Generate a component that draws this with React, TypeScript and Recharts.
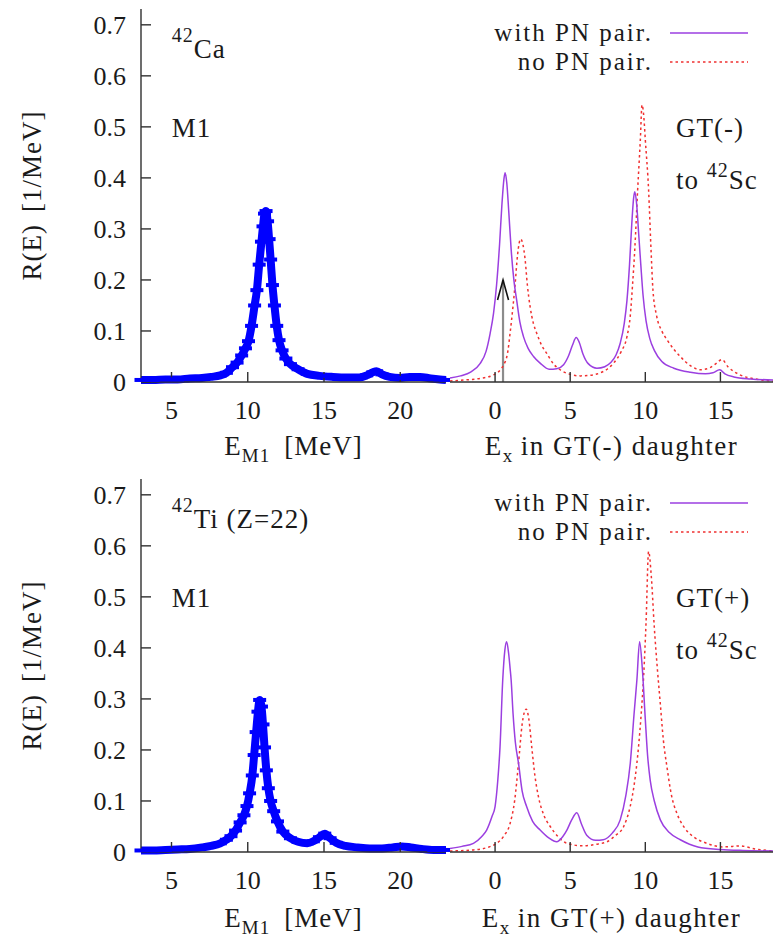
import React from 'react';
import { LineChart, Line, XAxis, YAxis, Legend, ReferenceLine } from 'recharts';

type P = [number, number];

const FONT = "'Liberation Serif', 'DejaVu Serif', 'Noto Serif', serif";
const INK = '#1a1a1a';
const AXIS_COLOR = '#303030';
const BLUE = '#0000ff';
const PURPLE = '#9b3fe0';
const RED = '#f03030';

// ---------- axes ----------
const yTicks = [0, 0.1, 0.2, 0.3, 0.4, 0.5, 0.6, 0.7];
const yDomain = [0, 0.731];
const m1Ticks = [5, 10, 15, 20];
const m1Domain = [3, 23];
const gtTicks = [0, 5, 10, 15];
const gtDomain = [-3, 18.5];

// ---------- legend ----------
const legendNames = ['with PN pair.', 'no PN pair.'];

// ---------- 42Ca M1 strength ----------
const caM1: P[] = [
  [3.0, 0.004], [3.8, 0.004], [4.6, 0.005], [5.4, 0.005], [6.2, 0.007], [7.0, 0.008],
  [7.6, 0.010], [8.2, 0.013], [8.6, 0.018], [9.0, 0.029], [9.3, 0.038], [9.6, 0.052],
  [9.85, 0.066], [10.05, 0.08], [10.25, 0.11], [10.45, 0.15], [10.6, 0.18], [10.75, 0.23],
  [10.9, 0.275], [11.0, 0.305], [11.1, 0.33], [11.2, 0.335], [11.3, 0.315], [11.4, 0.28],
  [11.5, 0.24], [11.62, 0.19], [11.75, 0.15], [11.9, 0.11], [12.05, 0.082], [12.25, 0.062],
  [12.5, 0.046], [12.8, 0.035], [13.3, 0.025], [13.9, 0.016], [14.7, 0.012], [15.6, 0.010],
  [16.5, 0.009], [17.3, 0.009], [17.8, 0.013], [18.2, 0.019], [18.45, 0.021], [18.8, 0.015],
  [19.3, 0.010], [20.0, 0.008], [20.6, 0.010], [21.3, 0.010], [22.0, 0.007], [22.6, 0.005],
  [23.0, 0.004],
];

// ---------- 42Ti M1 strength ----------
const tiM1: P[] = [
  [3.0, 0.003], [3.8, 0.003], [4.6, 0.004], [5.4, 0.005], [6.2, 0.006], [7.0, 0.009],
  [7.6, 0.012], [8.2, 0.017], [8.6, 0.024], [8.9, 0.031], [9.2, 0.042], [9.5, 0.058],
  [9.75, 0.072], [9.95, 0.09], [10.12, 0.115], [10.3, 0.15], [10.42, 0.19], [10.55, 0.235],
  [10.67, 0.275], [10.78, 0.298], [10.9, 0.285], [11.0, 0.25], [11.1, 0.205], [11.22, 0.16],
  [11.35, 0.125], [11.5, 0.1], [11.7, 0.08], [11.95, 0.06], [12.3, 0.04], [12.8, 0.027],
  [13.3, 0.02], [13.9, 0.017], [14.3, 0.021], [14.7, 0.029], [15.05, 0.036], [15.4, 0.027],
  [15.8, 0.018], [16.4, 0.012], [17.2, 0.009], [18.0, 0.007], [18.8, 0.007], [19.5, 0.009],
  [20.1, 0.011], [20.7, 0.009], [21.4, 0.006], [22.2, 0.004], [23.0, 0.004],
];

// ---------- GT(-) ----------
const gtMinusWith: P[] = [
  [-3.0, 0.008], [-2.3, 0.012], [-1.6, 0.02], [-1.0, 0.036], [-0.6, 0.06], [-0.33, 0.095],
  [-0.1, 0.135], [0.1, 0.19], [0.3, 0.27], [0.45, 0.345], [0.6, 0.4], [0.67, 0.41],
  [0.78, 0.39], [0.92, 0.33], [1.07, 0.26], [1.25, 0.2], [1.44, 0.16], [1.65, 0.118],
  [1.89, 0.089], [2.2, 0.066], [2.56, 0.05], [3.0, 0.037], [3.6, 0.025], [4.1, 0.026],
  [4.56, 0.034], [4.9, 0.052], [5.15, 0.072], [5.4, 0.087], [5.6, 0.078], [5.85, 0.055],
  [6.2, 0.036], [6.78, 0.027], [7.3, 0.03], [7.7, 0.038], [8.05, 0.053], [8.33, 0.076],
  [8.6, 0.115], [8.78, 0.16], [8.95, 0.23], [9.1, 0.31], [9.22, 0.36], [9.3, 0.373],
  [9.42, 0.35], [9.56, 0.29], [9.7, 0.23], [9.85, 0.17], [10.05, 0.12], [10.3, 0.085],
  [10.6, 0.062], [11.1, 0.04], [11.9, 0.027], [13.0, 0.019], [14.0, 0.016], [14.5, 0.018],
  [14.95, 0.024], [15.3, 0.016], [15.9, 0.01], [17.0, 0.006], [18.5, 0.004],
];
const gtMinusNo: P[] = [
  [-3.0, 0.002], [-2.0, 0.004], [-1.0, 0.007], [-0.1, 0.014], [0.56, 0.033], [0.85, 0.06],
  [1.0, 0.096], [1.2, 0.15], [1.33, 0.19], [1.5, 0.25], [1.7, 0.28], [1.85, 0.27],
  [2.0, 0.24], [2.15, 0.19], [2.33, 0.148], [2.55, 0.115], [2.78, 0.095], [3.1, 0.072],
  [3.44, 0.056], [3.9, 0.035], [4.33, 0.024], [5.0, 0.015], [5.67, 0.012], [6.3, 0.013],
  [7.0, 0.018], [7.5, 0.026], [7.89, 0.037], [8.4, 0.06], [8.78, 0.089], [9.0, 0.13],
  [9.15, 0.19], [9.3, 0.26], [9.49, 0.376], [9.67, 0.475], [9.78, 0.543], [9.9, 0.52],
  [10.0, 0.475], [10.22, 0.376], [10.38, 0.26], [10.51, 0.18], [10.75, 0.13], [11.1, 0.1],
  [11.44, 0.083], [12.33, 0.05], [13.0, 0.032], [13.67, 0.024], [14.3, 0.028], [14.7, 0.036],
  [15.1, 0.044], [15.5, 0.03], [16.3, 0.014], [17.3, 0.006], [18.5, 0.002],
];
const gtMinusArrow: P[] = [[0.53, 0], [0.53, 0.2]];

// ---------- GT(+) ----------
const gtPlusWith: P[] = [
  [-3.0, 0.007], [-2.2, 0.011], [-1.44, 0.017], [-0.9, 0.03], [-0.56, 0.043], [-0.2, 0.07],
  [0.0, 0.089], [0.18, 0.14], [0.33, 0.206], [0.51, 0.337], [0.65, 0.395], [0.77, 0.412],
  [0.9, 0.39], [1.0, 0.36], [1.07, 0.337], [1.2, 0.27], [1.35, 0.215], [1.56, 0.174],
  [1.8, 0.12], [2.1, 0.089], [2.5, 0.06], [3.0, 0.043], [3.6, 0.027], [4.1, 0.02],
  [4.5, 0.03], [4.78, 0.043], [5.1, 0.063], [5.44, 0.077], [5.75, 0.055], [6.1, 0.033],
  [6.7, 0.023], [7.2, 0.024], [7.8, 0.037], [8.33, 0.063], [8.7, 0.11], [9.0, 0.174],
  [9.25, 0.27], [9.44, 0.337], [9.62, 0.412], [9.8, 0.36], [10.0, 0.26], [10.15, 0.19],
  [10.33, 0.14], [10.6, 0.1], [11.0, 0.063], [11.6, 0.038], [12.33, 0.024], [13.5, 0.01],
  [15.0, 0.005], [16.5, 0.003], [18.5, 0.002],
];
const gtPlusNo: P[] = [
  [-3.0, 0.002], [-1.44, 0.004], [-0.5, 0.009], [0.1, 0.017], [0.6, 0.032], [1.0, 0.056],
  [1.3, 0.1], [1.56, 0.174], [1.8, 0.25], [2.07, 0.28], [2.25, 0.26], [2.44, 0.206],
  [2.65, 0.15], [2.89, 0.108], [3.25, 0.072], [3.67, 0.05], [4.2, 0.03], [4.78, 0.017],
  [5.89, 0.012], [6.7, 0.015], [7.44, 0.02], [8.0, 0.032], [8.56, 0.05], [9.0, 0.09],
  [9.25, 0.13], [9.44, 0.174], [9.7, 0.26], [9.89, 0.345], [10.05, 0.45], [10.22, 0.589],
  [10.4, 0.54], [10.6, 0.44], [10.8, 0.36], [11.0, 0.29], [11.2, 0.22], [11.44, 0.167],
  [11.75, 0.11], [12.1, 0.076], [12.6, 0.048], [13.2, 0.03], [14.0, 0.018], [15.2, 0.01],
  [15.8, 0.011], [16.3, 0.012], [17.3, 0.006], [18.5, 0.002],
];

const toRows = (pts: P[]) => pts.map(([x, y]) => ({ x, y }));

// ---------- styles ----------
const axisLineStyle = { stroke: AXIS_COLOR, strokeWidth: 1.4 };
const tickText = { fontSize: 26, fontFamily: FONT, fill: INK, style: { fontFamily: FONT } };
const fmtY = (v: number) => (v === 0 ? '0' : v.toFixed(1));

const blueDash = (props: any) => {
  const { cx, cy, index } = props;
  if (cx == null || cy == null) return <g key={`d${index}`} />;
  return <rect key={`d${index}`} x={cx - 6.5} y={cy - 2} width={13} height={4} fill={BLUE} />;
};

const txtStyle = { fontFamily: FONT };

const yTitle = (props: any) => {
  const vb = props.viewBox || { x: 0, y: 0, width: 0, height: 0 };
  const x = vb.x + 41;
  const cy = vb.y + vb.height / 2;
  return (
    <text
      x={x}
      y={cy}
      transform={`rotate(-90 ${x} ${cy})`}
      textAnchor="middle"
      style={txtStyle}
      fontSize={27}
      fill={INK}
      letterSpacing={1}
    >
      R(E)<tspan dx={12}>[1/MeV]</tspan>
    </text>
  );
};

const makeM1Title = (off: number) => (props: any) => {
  const vb = props.viewBox || { x: 0, y: 0, width: 0, height: 0 };
  const cx = vb.x + vb.width / 2;
  return (
    <text x={cx} y={vb.y + off} textAnchor="middle" style={txtStyle} fontSize={27} fill={INK} letterSpacing={1}>
      E<tspan fontSize={19} dy={7}>M1</tspan>
      <tspan dy={-7} dx={14}>[MeV]</tspan>
    </text>
  );
};

const makeGtTitle = (off: number, sign: string) => (props: any) => {
  const vb = props.viewBox || { x: 0, y: 0, width: 0, height: 0 };
  const cx = vb.x + vb.width / 2;
  return (
    <text x={cx} y={vb.y + off} textAnchor="middle" style={txtStyle} fontSize={27} fill={INK} letterSpacing={1.5}>
      E<tspan fontSize={19} dy={7}>x</tspan>
      <tspan dy={-7} dx={7}>{`in GT(${sign}) daughter`}</tspan>
    </text>
  );
};

const LEG_ROW = 29;
const renderLegend = () => (
  <div style={{ position: 'relative', width: 334, height: 62, fontFamily: FONT, fontSize: 25, color: INK }}>
    {legendNames.map((n, i) => (
      <div key={n} style={{ position: 'absolute', left: 0, top: i * LEG_ROW, width: 334, height: LEG_ROW }}>
        <span
          style={{
            position: 'absolute',
            right: 334 - 213,
            top: 0,
            lineHeight: `${LEG_ROW}px`,
            whiteSpace: 'nowrap',
            letterSpacing: 2,
            fontFamily: FONT,
          }}
        >
          {n}
        </span>
        <svg style={{ position: 'absolute', left: 228, top: 0 }} width={82} height={LEG_ROW}>
          <line
            x1={2}
            x2={80}
            y1={15}
            y2={15}
            stroke={i === 0 ? PURPLE : RED}
            strokeWidth={1.5}
            strokeDasharray={i === 0 ? undefined : '2.5 3'}
          />
        </svg>
      </div>
    ))}
  </div>
);

const arrowShape = (p: any) => {
  const { x1, y1, x2, y2 } = p;
  if (x1 == null) return <g />;
  const top = Math.min(y1, y2);
  const bot = Math.max(y1, y2);
  return (
    <g>
      <line x1={x1} y1={bot} x2={x2} y2={top} stroke="#8c8c8c" strokeWidth={2.2} />
      <polyline
        points={`${x2 - 5.5},${top + 20} ${x2},${top} ${x2 + 5.5},${top + 20}`}
        fill="none"
        stroke="#111"
        strokeWidth={1.6}
      />
    </g>
  );
};

// ---------- panels ----------
function M1Panel({ top, height, xAxisH, titleOff, pts }: any) {
  return (
    <div style={{ position: 'absolute', left: 0, top, width: 450, height }}>
      <LineChart width={450} height={height} margin={{ top: 9, right: 4, bottom: 0, left: 0 }}>
        <XAxis
          xAxisId="b"
          dataKey="x"
          type="number"
          domain={m1Domain}
          ticks={m1Ticks}
          interval={0}
          height={xAxisH}
          tickSize={-10}
          tickMargin={28.5}
          axisLine={axisLineStyle}
          tickLine={axisLineStyle}
          tick={tickText}
          label={{ content: makeM1Title(titleOff) }}
        />
        <XAxis
          xAxisId="t"
          orientation="top"
          type="number"
          domain={m1Domain}
          ticks={m1Ticks}
          interval={0}
          height={0}
          tickSize={-10}
          tick={false}
          axisLine={axisLineStyle}
          tickLine={axisLineStyle}
          allowDataOverflow
        />
        <YAxis
          yAxisId="l"
          type="number"
          domain={yDomain}
          ticks={yTicks}
          interval={0}
          width={141}
          tickSize={-10}
          tickMargin={25}
          axisLine={axisLineStyle}
          tickLine={axisLineStyle}
          tick={tickText}
          tickFormatter={fmtY}
          label={{ content: yTitle }}
        />
        <YAxis
          yAxisId="r"
          orientation="right"
          type="number"
          domain={yDomain}
          ticks={yTicks}
          interval={0}
          width={0}
          tickSize={-10}
          tick={false}
          axisLine={axisLineStyle}
          tickLine={axisLineStyle}
          allowDataOverflow
        />
        <Line
          xAxisId="b"
          yAxisId="l"
          data={toRows(pts)}
          dataKey="y"
          name="M1"
          type="monotone"
          stroke={BLUE}
          strokeWidth={8}
          dot={blueDash}
          isAnimationActive={false}
        />
      </LineChart>
    </div>
  );
}

function GtPanel({ top, height, xAxisH, titleOff, sign, withPts, noPts, arrow }: any) {
  return (
    <div style={{ position: 'absolute', left: 440, top, width: 334, height }}>
      <LineChart width={334} height={height} margin={{ top: 9, right: 1, bottom: 0, left: 10 }}>
        <XAxis
          xAxisId="b"
          dataKey="x"
          type="number"
          domain={gtDomain}
          ticks={gtTicks}
          interval={0}
          height={xAxisH}
          tickSize={-10}
          tickMargin={28.5}
          axisLine={axisLineStyle}
          tickLine={axisLineStyle}
          tick={tickText}
          label={{ content: makeGtTitle(titleOff, sign) }}
        />
        <XAxis
          xAxisId="t"
          orientation="top"
          type="number"
          domain={gtDomain}
          ticks={gtTicks}
          interval={0}
          height={0}
          tickSize={-10}
          tick={false}
          axisLine={axisLineStyle}
          tickLine={axisLineStyle}
          allowDataOverflow
        />
        <YAxis
          yAxisId="l"
          type="number"
          domain={yDomain}
          ticks={yTicks}
          interval={0}
          width={0}
          tick={false}
          tickLine={false}
          axisLine={axisLineStyle}
        />
        <Legend
          layout="vertical"
          align="center"
          verticalAlign="middle"
          wrapperStyle={{ position: 'absolute', left: 0, top: 18, width: 334, height: 62 }}
          content={renderLegend}
        />
        {arrow ? (
          <ReferenceLine
            xAxisId="b"
            yAxisId="l"
            segment={arrow.map(([x, y]: P) => ({ x, y }))}
            shape={arrowShape}
            ifOverflow="visible"
          />
        ) : null}
        <Line
          xAxisId="b"
          yAxisId="l"
          data={toRows(noPts)}
          dataKey="y"
          name={legendNames[1]}
          type="monotone"
          stroke={RED}
          strokeWidth={1.5}
          strokeDasharray="2.5 3"
          dot={false}
          isAnimationActive={false}
        />
        <Line
          xAxisId="b"
          yAxisId="l"
          data={toRows(withPts)}
          dataKey="y"
          name={legendNames[0]}
          type="monotone"
          stroke={PURPLE}
          strokeWidth={1.5}
          dot={false}
          isAnimationActive={false}
        />
      </LineChart>
    </div>
  );
}

const annText = { fontSize: 27, fill: INK, style: txtStyle, letterSpacing: 1 };

export default function App() {
  return (
    <div
      style={{
        position: 'absolute',
        left: 0,
        top: 0,
        width: 774,
        height: 938,
        background: '#fff',
        overflow: 'hidden',
        fontFamily: FONT,
      }}
    >
      <M1Panel top={0} height={470} xAxisH={88} titleOff={73} pts={caM1} />
      <GtPanel
        top={0}
        height={470}
        xAxisH={88}
        titleOff={73}
        sign="-"
        withPts={gtMinusWith}
        noPts={gtMinusNo}
        arrow={gtMinusArrow}
      />
      <M1Panel top={470} height={468} xAxisH={86} titleOff={75} pts={tiM1} />
      <GtPanel
        top={470}
        height={468}
        xAxisH={86}
        titleOff={75}
        sign="+"
        withPts={gtPlusWith}
        noPts={gtPlusNo}
        arrow={null}
      />
      <svg
        width={774}
        height={938}
        style={{ position: 'absolute', left: 0, top: 0, pointerEvents: 'none', fontFamily: FONT }}
      >
        <text x={171.7} y={58} {...annText}>
          <tspan fontSize={20} dy={-16}>42</tspan>
          <tspan dy={16}>Ca</tspan>
        </text>
        <text x={171.7} y={137} {...annText}>M1</text>
        <text x={676} y={137} {...annText}>GT(-)</text>
        <text x={676} y={189} {...annText}>
          to <tspan fontSize={20} dy={-12}>42</tspan>
          <tspan dy={12}>Sc</tspan>
        </text>

        <text x={171.7} y={528} {...annText}>
          <tspan fontSize={20} dy={-16}>42</tspan>
          <tspan dy={16}>Ti (Z=22)</tspan>
        </text>
        <text x={171.7} y={607} {...annText}>M1</text>
        <text x={676} y={607} {...annText}>GT(+)</text>
        <text x={676} y={659} {...annText}>
          to <tspan fontSize={20} dy={-12}>42</tspan>
          <tspan dy={12}>Sc</tspan>
        </text>
      </svg>
    </div>
  );
}
